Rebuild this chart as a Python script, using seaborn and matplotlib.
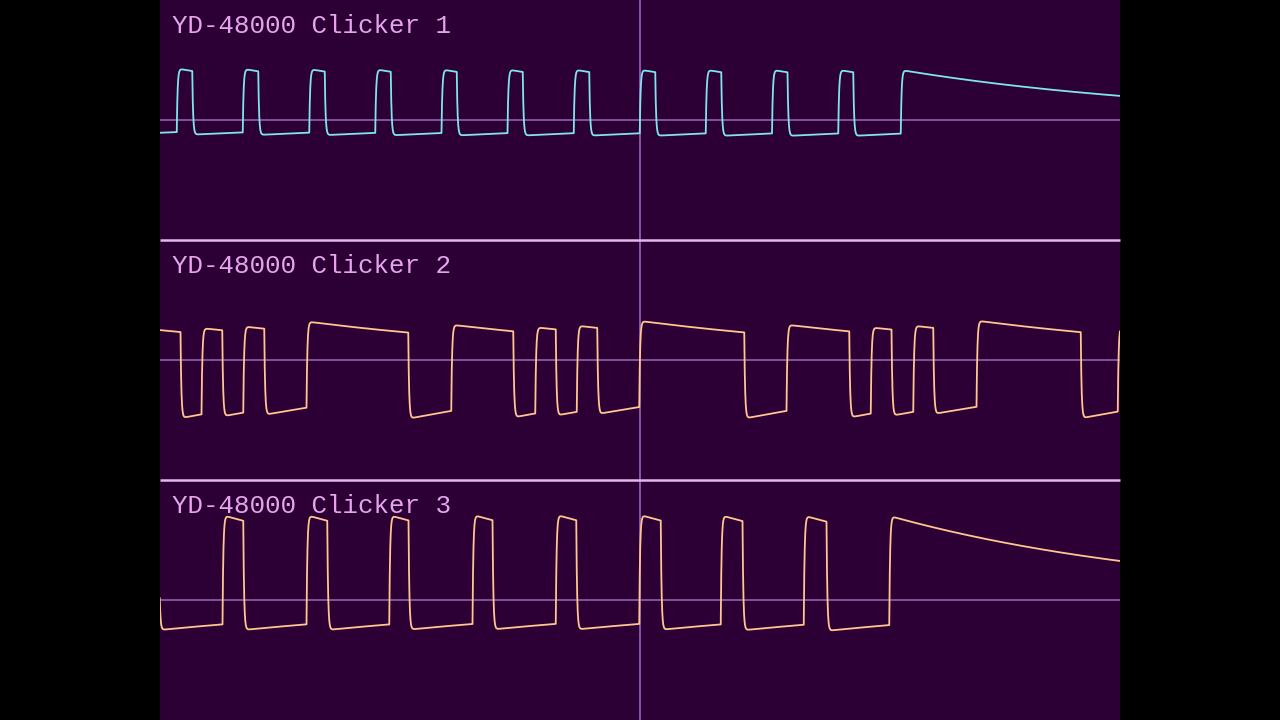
import numpy as np
import pandas as pd
import matplotlib
matplotlib.use("Agg")
import matplotlib.pyplot as plt
from matplotlib.lines import Line2D
import seaborn as sns

# ---------------- data ----------------
titles = ["YD-48000 Clicker 1", "YD-48000 Clicker 2", "YD-48000 Clicker 3"]
colors = ["#80e4f0", "#ffc690", "#ffc690"]

# time window (arbitrary sample units)
t_min, t_max = 160.0, 1120.0

# channel 1: starts low
ch1_start_level = -12.8
ch1_start_state = 0
ch1_toggles = [177.0, 192.5, 243.0, 258.5, 309.3, 324.8, 375.5, 391.0,
               441.6, 457.0, 507.7, 523.0, 573.8, 589.3, 640.0, 655.5,
               706.0, 721.5, 772.2, 787.7, 838.3, 853.5, 901.0]
ch1_amplitude = 63.5

# channel 2: starts high
ch2_start_level = 30.0
ch2_start_state = 1
ch2_toggles = [180.7, 201.7, 222.3, 243.3, 264.3, 306.7, 408.3, 451.3,
               513.5, 535.5, 555.8, 577.0, 597.5, 639.5, 744.3, 786.7,
               849.3, 871.0, 891.7, 913.3, 933.3, 976.7, 1081.0, 1118.0]
ch2_amplitude = 86.0

# channel 3: starts high, falls right at the left edge
ch3_start_level = 79.0
ch3_start_state = 1
ch3_toggles = [159.0, 222.7, 243.3, 306.7, 327.3, 389.3, 408.7, 472.7,
               492.7, 556.0, 576.5, 639.3, 661.0, 721.0, 742.7, 804.0,
               826.7, 889.3]
ch3_amplitude = 109.0

coupling_tau = 300.0   # AC-coupling time constant of the scope input
edge_tau = 0.7         # edge rounding

# ---------------- build traces ----------------
def scope_trace(start_level, start_state, toggles, amp, t0=158.5, dt=0.25):
    t = np.arange(t0, t_max + dt, dt)
    state = np.full(t.shape, start_state, dtype=float)
    for i, tt in enumerate(toggles):
        s = start_state if (i % 2 == 1) else 1 - start_state
        state[t >= tt] = s
    logic = state * amp
    a = coupling_tau / (coupling_tau + dt)
    b = dt / (edge_tau + dt)
    y = np.empty_like(t)
    z = np.empty_like(t)
    y[0] = start_level
    z[0] = start_level
    for n in range(1, len(t)):
        y[n] = a * (y[n - 1] + logic[n] - logic[n - 1])
        z[n] = z[n - 1] + b * (y[n] - z[n - 1])
    return pd.DataFrame({"t": t, "v": z})

traces = [
    scope_trace(ch1_start_level, ch1_start_state, ch1_toggles, ch1_amplitude),
    scope_trace(ch2_start_level, ch2_start_state, ch2_toggles, ch2_amplitude),
    scope_trace(ch3_start_level, ch3_start_state, ch3_toggles, ch3_amplitude),
]

# ---------------- draw ----------------
sns.set_theme(style="dark")
plt.rcParams["font.family"] = ["Liberation Mono", "DejaVu Sans Mono"]

bg = "#2c0034"
fig = plt.figure(figsize=(12.8, 7.2), dpi=100, facecolor="black")

for i in range(3):
    ax = fig.add_axes([160 / 1280, 1 - (i + 1) / 3, 960 / 1280, 1 / 3])
    ax.set_facecolor(bg)
    ax.axhline(0, color="#a874c0", lw=1.1, alpha=0.9, zorder=1)
    ax.axvline(640, color="#8a56a4", lw=1.4, zorder=1)
    sns.lineplot(data=traces[i], x="t", y="v", ax=ax, color=colors[i],
                 lw=1.3, estimator=None, sort=False, zorder=3)
    ax.set_xlim(t_min, t_max)
    ax.set_ylim(-120, 120)
    ax.set_xticks([])
    ax.set_yticks([])
    ax.set_xlabel("")
    ax.set_ylabel("")
    for sp in ax.spines.values():
        sp.set_visible(False)
    ax.text(12 / 960, 1 - 33 / 240, titles[i], transform=ax.transAxes,
            ha="left", va="baseline", fontsize=18.6, color="#e6a4ee")

# panel separators
for yy in (2 / 3, 1 / 3):
    fig.add_artist(Line2D([160 / 1280, 1120 / 1280], [yy, yy],
                          transform=fig.transFigure, color="#e2b8f0",
                          lw=1.8, solid_capstyle="butt", zorder=10))

fig.savefig("out.png", dpi=100, facecolor="black")
